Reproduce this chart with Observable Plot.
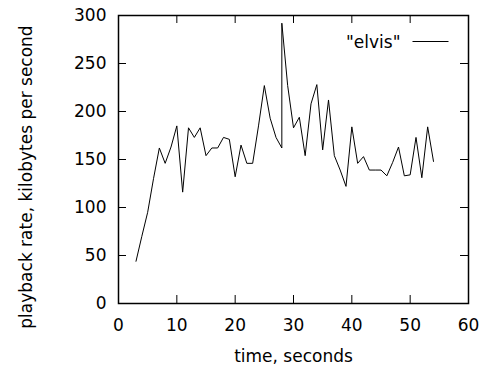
<!DOCTYPE html>
<html><head><meta charset="utf-8">
<script src="https://cdn.jsdelivr.net/npm/d3@7"></script>
<script src="https://cdn.jsdelivr.net/npm/@observablehq/plot@0.6"></script>
<style>body{margin:0;background:#fff} #chart svg{display:block}</style>
</head><body><div id="chart"></div>
<script>
const times = [3,4,5,6,7,8,9,10,11,12,13,14,15,16,17,18,19,20,21,22,23,24,25,26,27,28,28,29,30,31,32,33,34,35,36,37,38,39,40,41,42,43,44,45,46,47,48,49,50,51,52,53,54];
const rates = [44,70,95,130,162,146,163,185,116,183,173,183,154,162,162,173,171,132,165,146,146,185,227,193,173,162,292,227,183,194,154,208,228,160,212,154,139,122,184,146,153,139,139,139,133,147,163,133,134,173,131,184,148];
const xTicks = [0,10,20,30,40,50,60];
const yTicks = [0,50,100,150,200,250,300];
const seriesName = '"elvis"';
const xLabel = "time, seconds";
const yLabel = "playback rate, kilobytes per second";

const data = times.map((t, i) => ({t, r: rates[i]}));
const W = 484, H = 376, mL = 118, mR = 16, mT = 15, mB = 73;
const frameW = W - mL - mR, frameH = H - mT - mB;
const tickLen = 8;

function legendLine(index, scales, values, dims) {
  const x2 = dims.width - dims.marginRight - 19.5;
  const x1 = x2 - 36;
  const y = dims.marginTop + 26.5;
  const l = document.createElementNS("http://www.w3.org/2000/svg", "line");
  l.setAttribute("x1", x1); l.setAttribute("x2", x2);
  l.setAttribute("y1", y); l.setAttribute("y2", y);
  l.setAttribute("stroke", "black"); l.setAttribute("stroke-width", 1);
  return l;
}

const chart = Plot.plot({
  width: W, height: H,
  marginLeft: mL, marginRight: mR, marginTop: mT, marginBottom: mB,
  style: {fontFamily: "'DejaVu Sans', sans-serif", fontSize: "17px", color: "black", background: "white"},
  x: {domain: [0, 60]},
  y: {domain: [0, 300]},
  marks: [
    Plot.axisX({ticks: xTicks, tickSize: 0, tickPadding: 15, label: null, fontSize: 17}),
    Plot.axisY({ticks: yTicks, tickSize: 0, tickPadding: 12, label: null, fontSize: 17}),
    Plot.tickX(xTicks, {x: d => d, insetTop: frameH - tickLen, stroke: "black"}),
    Plot.tickX(xTicks, {x: d => d, insetBottom: frameH - tickLen, stroke: "black"}),
    Plot.tickY(yTicks, {y: d => d, insetRight: frameW - tickLen, stroke: "black"}),
    Plot.tickY(yTicks, {y: d => d, insetLeft: frameW - tickLen, stroke: "black"}),
    Plot.line(data, {x: "t", y: "r", stroke: "black", strokeWidth: 1}),
    Plot.frame({stroke: "black", strokeWidth: 1.5}),
    Plot.text([seriesName], {frameAnchor: "top-right", dx: -68, dy: 27, textAnchor: "end", lineAnchor: "middle", fontSize: 17}),
    legendLine,
    Plot.text([xLabel], {frameAnchor: "bottom", dy: 52.6, textAnchor: "middle", lineAnchor: "middle", fontSize: 17}),
    Plot.text([yLabel], {frameAnchor: "left", rotate: -90, dx: -92.4, dy: 17.5, textAnchor: "middle", lineAnchor: "middle", fontSize: 17})
  ]
});
document.getElementById("chart").appendChild(chart);
</script>
</body></html>
